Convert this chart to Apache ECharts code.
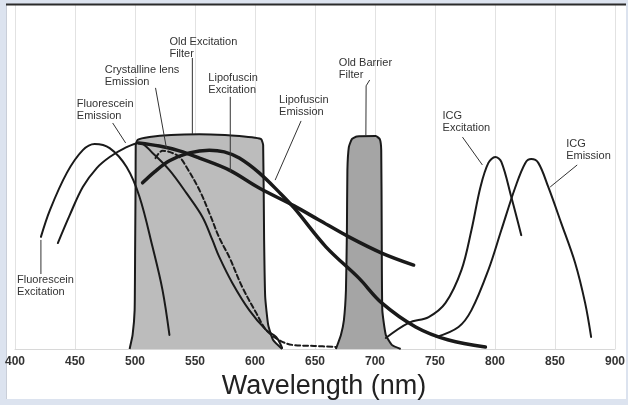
<!DOCTYPE html>
<html><head><meta charset="utf-8">
<script src="https://cdn.jsdelivr.net/npm/echarts@6/dist/echarts.min.js"></script>
<style>html,body{margin:0;padding:0;background:#dce3ef;overflow:hidden}#c{width:628px;height:405px}</style>
</head><body><div id="c"></div>
<script>
// x axis ticks (nm)
const xMin = 400, xMax = 900, xStep = 50;

// filters (relative transmission, % of plot height)
const oldExcitationFilter = [[495.5,0],[498.0,4.1],[499.7,11.3],[500.1,28.8],[500.5,49.1],[500.6,59.3],[502.2,60.8],[512.1,61.6],[530,62.2],[553.7,62.4],[575,62.2],[586.9,61.9],[600,61.4],[605.2,61.0],[606.8,59.3],[607.6,31.7],[608.5,15.1],[611.0,7.0],[615.1,2.6],[622.6,0]];
const oldBarrierFilter = [[667.4,0],[671.6,4.1],[674.1,8.4],[675.8,17.2],[676.6,34.6],[677.0,52.0],[678.2,58.7],[680.7,61.0],[684.9,61.8],[700.7,61.9],[704.0,61.0],[705.2,57.8],[705.6,34.6],[706.1,11.3],[709.0,4.1],[714.0,1.2],[721.4,0]];

// spectra
const fluoresceinExcitation = [[421.6,32.6],[429.1,40.4],[443.2,51.2],[456.5,57.8],[466.4,59.6],[478.9,58.4],[493.0,52.9],[503.8,44.2],[514.6,29.7],[522.9,17.2],[528.7,4.1]];
const fluoresceinEmission = [[435.7,30.8],[445.7,39.0],[456.5,47.1],[468.1,52.6],[478.9,55.8],[491.4,58.4],[503.8,59.9],[514.6,57.0],[528.7,52.0],[542.9,45.3],[556.2,38.4],[564.5,31.7],[570.3,26.7],[581.1,19.2],[595.2,11.3],[609.3,5.5],[617.6,3.5],[622.6,0.3]];
const crystallineLensEmission = [[517.1,55.5],[522.9,57.6],[528.7,57.3],[537.0,55.8],[542.9,52.9],[553.7,46.2],[562.0,39.5],[570.3,32.3],[578.6,26.7],[589.4,18.0],[601.0,10.5],[609.3,5.5],[620.1,2.6],[630.9,1.2],[649.2,0.9],[667.4,0.6]];
const lipofuscinExcitation = [[503.0,59.9],[520.4,59.0],[537.0,57.6],[553.7,55.5],[578.6,52.0],[603.5,46.8],[632.6,41.6],[653.3,37.5],[678.2,32.6],[705.6,27.9],[732.2,24.4]];
const lipofuscinEmission = [[506.3,48.3],[516.3,51.5],[528.7,54.7],[545.3,57.0],[561.9,57.8],[574.4,57.3],[586.9,55.5],[603.5,51.2],[620.1,45.6],[632.6,41.0],[659.1,29.7],[686.6,20.6],[705.6,13.4],[733.9,6.4],[761.3,2.6],[792.0,0.6]];
const icgExcitation = [[709.0,3.2],[728.1,7.6],[744.7,9.3],[758.8,13.4],[772.1,23.0],[780.4,34.6],[787.9,47.1],[794.5,54.1],[800.3,55.8],[805.3,54.4],[813.6,44.2],[821.9,33.1]];
const icgEmission = [[751.3,3.5],[769.6,6.4],[780.4,11.3],[794.5,23.0],[805.3,34.6],[817.0,47.1],[825.3,54.1],[830.2,55.2],[836.1,54.1],[844.4,47.1],[855.2,36.6],[866.8,25.0],[875.1,13.4],[880.1,3.5]];

// annotations: label, anchor (left x, first-line centre y) and pointer polyline in data units
const annotations = [
  {text:'Old Excitation\nFilter', at:[528.7,89.2], pointer:[[547.8,84.6],[547.8,62.5]]},
  {text:'Crystalline lens\nEmission', at:[474.8,81.1], pointer:[[517.1,75.9],[526.2,58.4]]},
  {text:'Lipofuscin\nExcitation', at:[561.1,78.8], pointer:[[579.4,73.3],[579.4,51.5]]},
  {text:'Fluorescein\nEmission', at:[451.5,71.2], pointer:[[481.4,65.7],[492.2,59.9]]},
  {text:'Lipofuscin\nEmission', at:[620.1,72.4], pointer:[[638.4,66.3],[616.8,49.1]]},
  {text:'Old Barrier\nFilter', at:[669.9,83.1], pointer:[[695.6,78.2],[692.6,76.5],[692.4,61.9]]},
  {text:'ICG\nExcitation', at:[756.3,67.7], pointer:[[772.9,61.6],[789.5,53.5]]},
  {text:'ICG\nEmission', at:[859.3,59.6], pointer:[[868.5,53.5],[846.0,47.1]]},
  {text:'Fluorescein\nExcitation', at:[401.7,20.1], pointer:[[421.6,31.7],[421.6,21.8]]}
];

const chart = echarts.init(document.getElementById('c'), null, {renderer:'canvas'});
const FONT = '"Liberation Sans", Arial, sans-serif';

function curve(name, data, width, dashed){
  return {name, type:'line', data, symbol:'none', smooth:0.35, z:5,
    lineStyle:{color:'#1a1a1a', width, type: dashed ? [5,3] : 'solid', cap:'round'}};
}
function filter(name, data, fill){
  return {name, type:'line', data, symbol:'none', smooth:0.15, z:3,
    lineStyle:{color:'#1a1a1a', width:2}, areaStyle:{color:fill, opacity:1, origin:'start'}};
}

chart.setOption({
  backgroundColor:'#dce3ef',
  animation:false,
  grid:{left:15, right:11, top:5, bottom:56},
  xAxis:{type:'value', min:xMin, max:xMax, interval:xStep,
    name:'Wavelength (nm)', nameLocation:'middle', nameGap:22,
    nameTextStyle:{fontFamily:FONT, fontSize:27, color:'#222', padding:[0,0,0,18]},
    axisLine:{show:true, lineStyle:{color:'#d8d8d8'}}, axisTick:{show:false},
    axisLabel:{fontFamily:FONT, fontSize:12, fontWeight:'bold', color:'#333', margin:7, showMaxLabel:true, showMinLabel:true},
    splitLine:{show:true, lineStyle:{color:'#e2e2e2', width:1}}},
  yAxis:{type:'value', min:0, max:100, show:false, splitLine:{show:false}},
  series:[
    filter('Old Excitation Filter', oldExcitationFilter, '#bcbcbc'),
    filter('Old Barrier Filter', oldBarrierFilter, '#a5a5a5'),
    curve('Fluorescein Excitation', fluoresceinExcitation, 2),
    curve('Fluorescein Emission', fluoresceinEmission, 2),
    curve('Crystalline lens Emission', crystallineLensEmission, 2, true),
    curve('Lipofuscin Excitation', lipofuscinExcitation, 3.5),
    curve('Lipofuscin Emission', lipofuscinEmission, 3.5),
    curve('ICG Excitation', icgExcitation, 2),
    curve('ICG Emission', icgEmission, 2)
  ]
});

const px = p => chart.convertToPixel({gridIndex:0}, p);
const elements = [
  {type:'rect', z:-100, silent:true, shape:{x:6, y:4, width:620, height:395}, style:{fill:'#ffffff'}},
  {type:'line', z:-99, silent:true, shape:{x1:6.5, y1:4, x2:6.5, y2:399}, style:{stroke:'#c9ced8', lineWidth:1}},
  {type:'rect', z:100, silent:true, shape:{x:626, y:0, width:2, height:405}, style:{fill:'#dce3ef'}},
  {type:'line', z:101, silent:true, shape:{x1:6, y1:4.5, x2:626, y2:4.5}, style:{stroke:'#2b2b2b', lineWidth:2}}
];
annotations.forEach(a => {
  const p = px(a.at);
  elements.push({type:'text', z:20, silent:true, x:p[0], y:p[1]-6,
    style:{text:a.text, font:'11px ' + FONT, fill:'#333', lineHeight:12, align:'left', verticalAlign:'top'}});
  elements.push({type:'polyline', z:20, silent:true, shape:{points:a.pointer.map(px)},
    style:{stroke:'#333', lineWidth:1, fill:null}});
});
chart.setOption({graphic:{elements}});
</script>
</body></html>
